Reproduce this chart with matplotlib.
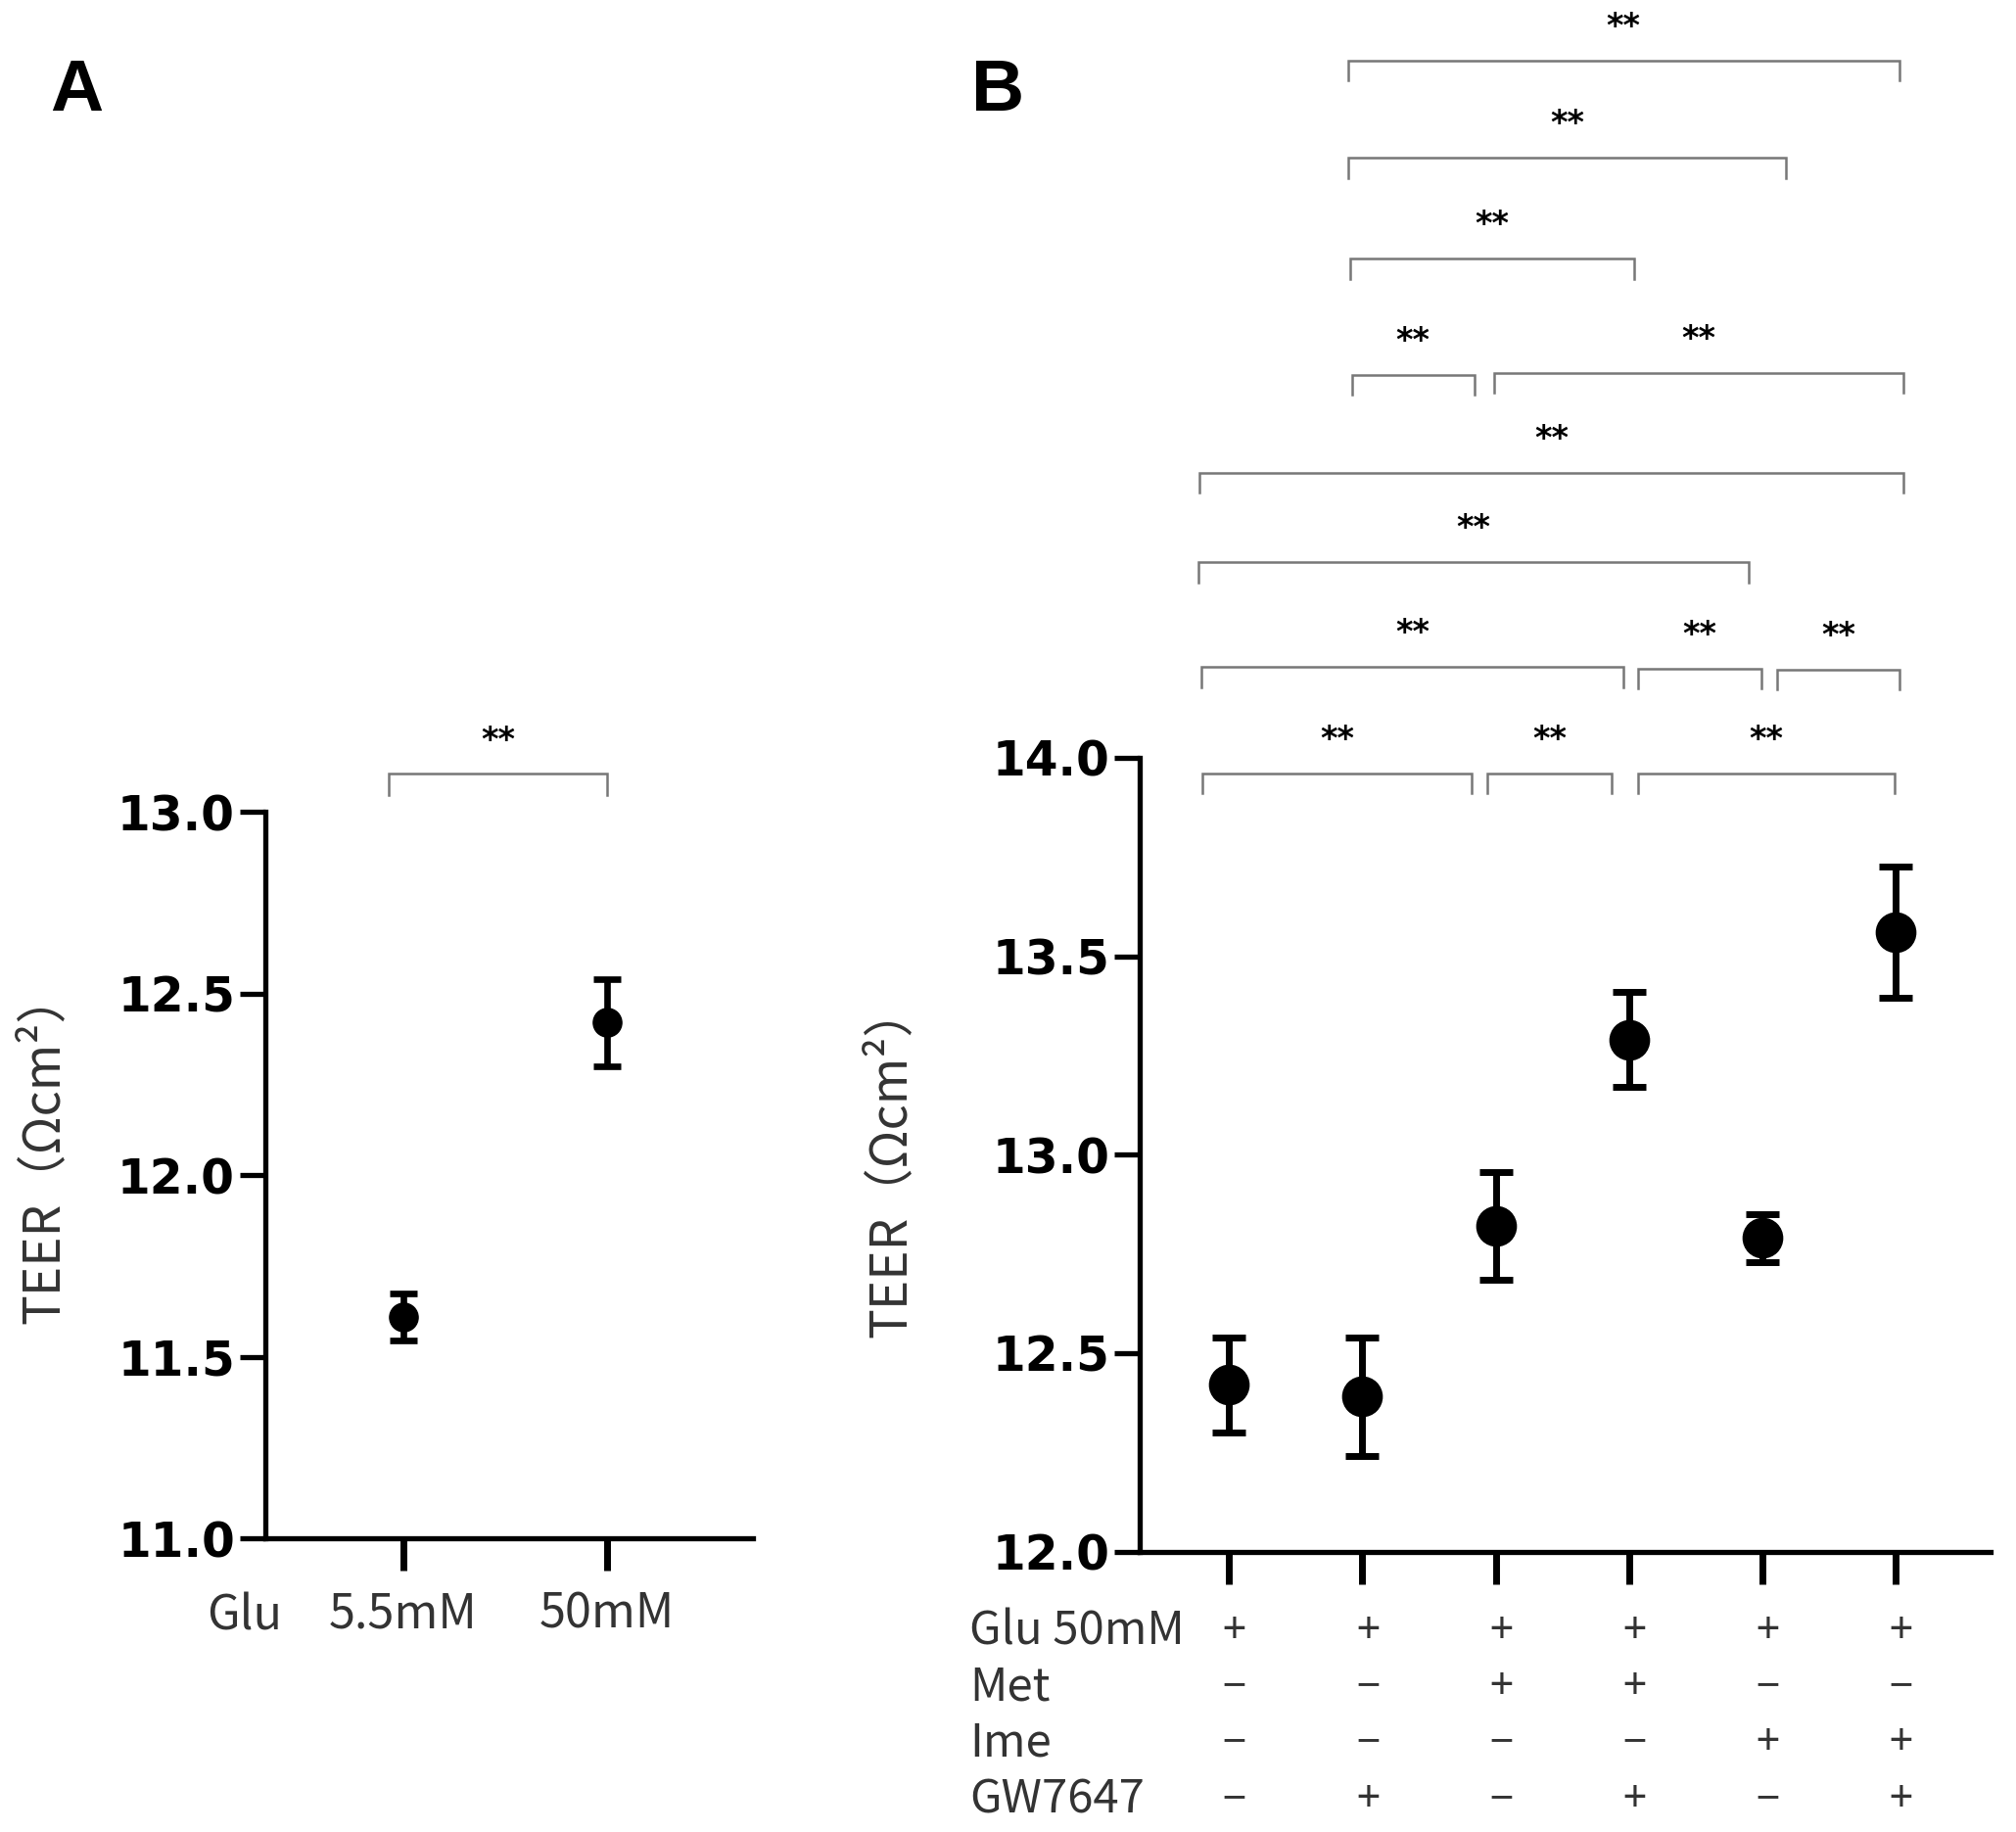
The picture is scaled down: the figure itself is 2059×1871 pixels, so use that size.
import numpy as np
import matplotlib
matplotlib.use("Agg")
import matplotlib.pyplot as plt
import matplotlib.transforms as mtransforms

# Panel A data
a_groups = ["5.5mM", "50mM"]
a_mean = [11.61, 12.42]
a_err = [0.065, 0.12]

# Panel B data
b_mean = [12.42, 12.39, 12.82, 13.29, 12.79, 13.56]
b_err = [0.12, 0.15, 0.135, 0.12, 0.06, 0.165]
row_names = ["Glu 50mM", "Met", "Ime", "GW7647"]
row_signs = [
    ["+", "+", "+", "+", "+", "+"],
    ["−", "−", "+", "+", "−", "−"],
    ["−", "−", "−", "−", "+", "+"],
    ["−", "+", "−", "+", "−", "+"],
]

# significance brackets (x from, x to, y level) in group units / data units
a_brackets = [(-0.07, 1.0, 13.107)]
b_brackets = [
    (0.89, 5.03, 15.756),
    (0.89, 4.18, 15.511),
    (0.91, 3.04, 15.257),
    (0.92, 1.84, 14.964),
    (1.99, 5.06, 14.970),
    (-0.22, 5.06, 14.717),
    (-0.23, 3.90, 14.492),
    (-0.21, 2.96, 14.228),
    (3.07, 3.99, 14.225),
    (4.11, 5.03, 14.222),
    (-0.20, 1.82, 13.961),
    (1.94, 2.87, 13.961),
    (3.07, 4.99, 13.961),
]

jp = ["Noto Sans CJK JP", "DejaVu Sans"]
num_font = "DejaVu Sans"
txt_col = "#333333"

fig = plt.figure(figsize=(20.59, 18.71), dpi=100)
axA = fig.add_axes([0.1314, 0.1602, 0.2423, 0.3966])
axB = fig.add_axes([0.5654, 0.1531, 0.4218, 0.4333])


def style_axis(ax):
    for s in ["top", "right"]:
        ax.spines[s].set_visible(False)
    for s in ["left", "bottom"]:
        ax.spines[s].set_linewidth(3.8)
    ax.tick_params(axis="y", length=19, width=3.8, labelsize=35, pad=3)
    ax.tick_params(axis="x", length=24, width=5.0, pad=14)
    for lab in ax.get_yticklabels():
        lab.set_fontweight("bold")
        lab.set_fontfamily(num_font)


def draw_brackets(ax, brackets, drop, star_off):
    for x0, x1, y in brackets:
        ax.plot([x0, x0, x1, x1], [y - drop, y, y, y - drop], color="#777777",
                lw=1.8, clip_on=False, solid_joinstyle="miter")
        ax.text((x0 + x1) / 2, y + star_off, "**", ha="center", va="center",
                fontsize=24, fontweight="bold", family="DejaVu Sans", clip_on=False)


# Panel A
xa = np.arange(len(a_mean))
axA.errorbar(xa, a_mean, yerr=a_err, fmt="o", color="black", ms=21,
             elinewidth=4.8, capsize=10, capthick=4.8)
axA.set_xlim(-0.68, 1.72)
axA.set_ylim(11.0, 13.0)
axA.set_yticks([11.0, 11.5, 12.0, 12.5, 13.0])
axA.set_yticklabels(["11.0", "11.5", "12.0", "12.5", "13.0"])
axA.set_xticks(xa)
axA.set_xticklabels(a_groups)
style_axis(axA)
for lab in axA.get_xticklabels():
    lab.set_fontfamily(jp)
    lab.set_color(txt_col)
    lab.set_fontsize(35)
axA.text(-0.78, -0.107, "Glu", transform=mtransforms.blended_transform_factory(axA.transData, axA.transAxes),
         ha="center", va="center", family=jp, fontsize=35, color=txt_col)
axA.set_ylabel("TEER（Ωcm²）", family=jp, fontsize=37, color=txt_col)
axA.yaxis.set_label_coords(-0.40, 0.539)
draw_brackets(axA, a_brackets, 0.06, 0.09)

# Panel B
xb = np.arange(len(b_mean))
axB.errorbar(xb, b_mean, yerr=b_err, fmt="o", color="black", ms=29,
             elinewidth=5.0, capsize=12, capthick=5.0)
axB.set_xlim(-0.67, 5.71)
axB.set_ylim(12.0, 14.0)
axB.set_yticks([12.0, 12.5, 13.0, 13.5, 14.0])
axB.set_yticklabels(["12.0", "12.5", "13.0", "13.5", "14.0"])
axB.set_xticks(xb)
axB.set_xticklabels([""] * len(xb))
style_axis(axB)
axB.set_ylabel("TEER（Ωcm²）", family=jp, fontsize=37, color=txt_col)
axB.yaxis.set_label_coords(-0.262, 0.492)

trB = mtransforms.blended_transform_factory(axB.transData, axB.transAxes)
row_y = [-0.101, -0.171, -0.241, -0.313]
for name, signs, ry in zip(row_names, row_signs, row_y):
    axB.text(-1.95, ry, name, transform=trB, ha="left", va="center",
             family=jp, fontsize=34, color=txt_col)
    for xi, sg in zip(xb, signs):
        axB.text(xi + 0.04, ry, sg, transform=trB, ha="center", va="center",
                 family=jp, fontsize=31, color=txt_col)
draw_brackets(axB, b_brackets, 0.05, 0.085)

# panel letters
fig.text(0.025, 0.950, "A", fontsize=54, fontweight="bold", family="Liberation Sans", va="center")
fig.text(0.482, 0.950, "B", fontsize=54, fontweight="bold", family="Liberation Sans", va="center")

fig.savefig("out.png", dpi=100)
